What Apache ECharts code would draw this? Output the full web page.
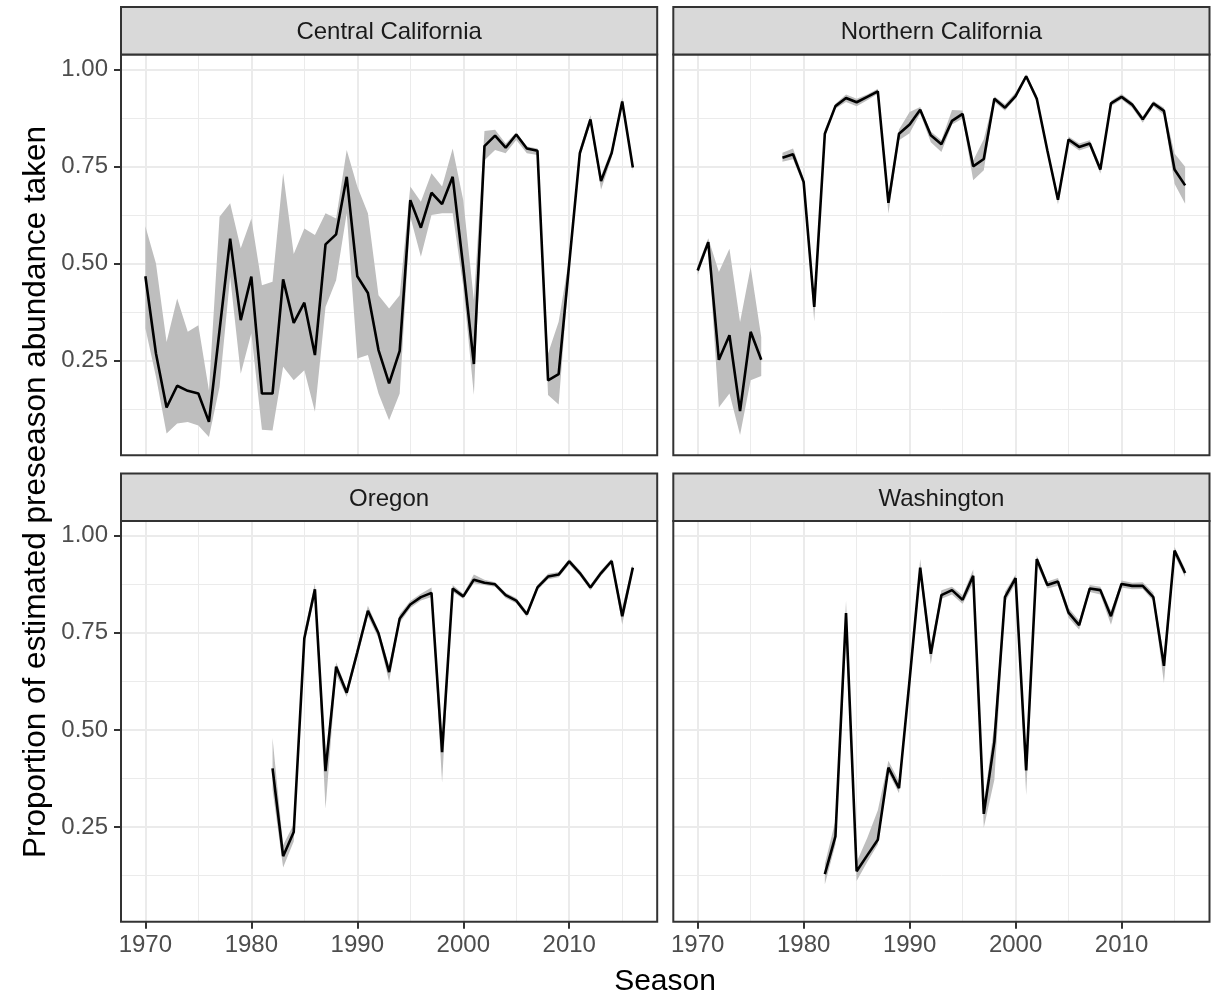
<!DOCTYPE html>
<html>
<head>
<meta charset="utf-8">
<title>Proportion of estimated preseason abundance taken</title>
<script src="https://cdn.jsdelivr.net/npm/echarts@6.0.0/dist/echarts.min.js"></script>
<style>
    html, body { margin: 0; padding: 0; background: #ffffff; }
    #chart { width: 1220px; height: 996px; }
</style>
</head>
<body>
<div id="chart"></div>
<script>
// 年份
var seasons = [1970, 1971, 1972, 1973, 1974, 1975, 1976, 1977, 1978, 1979,
               1980, 1981, 1982, 1983, 1984, 1985, 1986, 1987, 1988, 1989,
               1990, 1991, 1992, 1993, 1994, 1995, 1996, 1997, 1998, 1999,
               2000, 2001, 2002, 2003, 2004, 2005, 2006, 2007, 2008, 2009,
               2010, 2011, 2012, 2013, 2014, 2015, 2016];

var xMajorTicks = [1970, 1980, 1990, 2000, 2010];
var xMinorTicks = [1975, 1985, 1995, 2005, 2015];
var yMajorTicks = [0.25, 0.50, 0.75, 1.00];
var yMinorTicks = [0.125, 0.375, 0.625, 0.875];

var panelNames = ['Central California', 'Northern California', 'Oregon', 'Washington'];

// Central California
var centralMid = [0.467, 0.268, 0.129, 0.185, 0.172, 0.165, 0.092, 0.328, 0.564, 0.354,
                  0.466, 0.165, 0.165, 0.459, 0.347, 0.399, 0.264, 0.549, 0.575, 0.723,
                  0.467, 0.424, 0.277, 0.191, 0.275, 0.663, 0.592, 0.682, 0.653, 0.723,
                  0.490, 0.241, 0.802, 0.829, 0.798, 0.832, 0.796, 0.790, 0.199, 0.215,
                  0.500, 0.784, 0.871, 0.712, 0.784, 0.917, 0.747];
var centralLo  = [0.333, 0.208, 0.062, 0.088, 0.092, 0.083, 0.053, 0.182, 0.466, 0.216,
                  0.320, 0.072, 0.070, 0.234, 0.199, 0.225, 0.118, 0.388, 0.457, 0.629,
                  0.255, 0.264, 0.165, 0.096, 0.165, 0.620, 0.517, 0.625, 0.629, 0.629,
                  0.440, 0.161, 0.766, 0.792, 0.784, 0.818, 0.784, 0.779, 0.161, 0.137,
                  0.485, 0.772, 0.860, 0.690, 0.772, 0.905, 0.738];
var centralHi  = [0.596, 0.500, 0.298, 0.410, 0.324, 0.341, 0.173, 0.620, 0.655, 0.539,
                  0.616, 0.444, 0.453, 0.732, 0.524, 0.590, 0.573, 0.629, 0.616, 0.792,
                  0.698, 0.629, 0.418, 0.384, 0.418, 0.698, 0.659, 0.732, 0.698, 0.796,
                  0.663, 0.405, 0.841, 0.844, 0.809, 0.837, 0.801, 0.796, 0.268, 0.350,
                  0.515, 0.795, 0.882, 0.725, 0.795, 0.928, 0.758];

// Northern California
var northMid = [0.482, 0.555, 0.252, 0.315, 0.120, 0.324, 0.252, null, 0.772, 0.781,
                0.710, 0.388, 0.834, 0.905, 0.926, 0.915, 0.929, 0.943, 0.656, 0.834,
                0.858, 0.896, 0.830, 0.807, 0.867, 0.885, 0.750, 0.769, 0.924, 0.901,
                0.931, 0.982, 0.924, 0.791, 0.664, 0.819, 0.800, 0.809, 0.742, 0.912,
                0.929, 0.909, 0.871, 0.912, 0.893, 0.742, 0.701];
var northLo  = [0.470, 0.545, 0.129, 0.165, 0.058, 0.199, 0.210, null, 0.762, 0.768,
                0.700, 0.350, 0.826, 0.898, 0.916, 0.905, 0.920, 0.937, 0.628, 0.817,
                0.835, 0.886, 0.812, 0.787, 0.858, 0.873, 0.714, 0.740, 0.916, 0.893,
                0.925, 0.976, 0.916, 0.783, 0.652, 0.810, 0.791, 0.800, 0.731, 0.905,
                0.922, 0.901, 0.862, 0.905, 0.882, 0.705, 0.654];
var northHi  = [0.495, 0.565, 0.478, 0.538, 0.349, 0.491, 0.310, null, 0.785, 0.796,
                0.720, 0.405, 0.845, 0.911, 0.935, 0.924, 0.935, 0.950, 0.671, 0.845,
                0.890, 0.903, 0.840, 0.817, 0.895, 0.894, 0.765, 0.820, 0.930, 0.910,
                0.940, 0.987, 0.933, 0.800, 0.675, 0.827, 0.809, 0.817, 0.753, 0.918,
                0.936, 0.916, 0.879, 0.918, 0.901, 0.783, 0.749];

// Oregon
var oregonMid = [null, null, null, null, null, null, null, null, null, null,
                 null, null, 0.401, 0.175, 0.237, 0.736, 0.862, 0.394, 0.663, 0.596,
                 0.700, 0.807, 0.749, 0.649, 0.787, 0.823, 0.842, 0.853, 0.443, 0.864,
                 0.844, 0.887, 0.879, 0.875, 0.847, 0.833, 0.798, 0.867, 0.895, 0.900,
                 0.934, 0.904, 0.867, 0.904, 0.935, 0.793, 0.918];
var oregonLo  = [null, null, null, null, null, null, null, null, null, null,
                 null, null, 0.346, 0.146, 0.213, 0.722, 0.847, 0.297, 0.643, 0.585,
                 0.687, 0.793, 0.736, 0.625, 0.776, 0.814, 0.833, 0.842, 0.364, 0.855,
                 0.838, 0.878, 0.873, 0.869, 0.840, 0.826, 0.791, 0.860, 0.888, 0.893,
                 0.926, 0.897, 0.860, 0.897, 0.928, 0.771, 0.909];
var oregonHi  = [null, null, null, null, null, null, null, null, null, null,
                 null, null, 0.479, 0.204, 0.257, 0.754, 0.878, 0.434, 0.674, 0.607,
                 0.714, 0.820, 0.758, 0.665, 0.798, 0.832, 0.851, 0.867, 0.470, 0.873,
                 0.851, 0.900, 0.887, 0.880, 0.853, 0.840, 0.805, 0.873, 0.902, 0.907,
                 0.940, 0.911, 0.874, 0.911, 0.941, 0.816, 0.926];

// Washington
var washMid = [null, null, null, null, null, null, null, null, null, null,
               null, null, 0.129, 0.226, 0.801, 0.136, 0.177, 0.217, 0.403, 0.350,
               0.629, 0.918, 0.696, 0.847, 0.860, 0.835, 0.897, 0.284, 0.470, 0.842,
               0.891, 0.396, 0.940, 0.873, 0.882, 0.802, 0.770, 0.864, 0.860, 0.793,
               0.876, 0.871, 0.871, 0.842, 0.665, 0.962, 0.904];
var washLo  = [null, null, null, null, null, null, null, null, null, null,
               null, null, 0.102, 0.205, 0.727, 0.111, 0.160, 0.205, 0.390, 0.337,
               0.612, 0.895, 0.669, 0.838, 0.849, 0.824, 0.878, 0.248, 0.372, 0.829,
               0.878, 0.332, 0.926, 0.864, 0.871, 0.789, 0.758, 0.855, 0.849, 0.771,
               0.867, 0.862, 0.863, 0.832, 0.621, 0.949, 0.894];
var washHi  = [null, null, null, null, null, null, null, null, null, null,
               null, null, 0.155, 0.266, 0.833, 0.160, 0.222, 0.293, 0.421, 0.368,
               0.647, 0.940, 0.718, 0.860, 0.869, 0.847, 0.913, 0.310, 0.514, 0.856,
               0.900, 0.434, 0.949, 0.882, 0.891, 0.814, 0.782, 0.873, 0.869, 0.807,
               0.885, 0.879, 0.880, 0.853, 0.691, 0.971, 0.915];

var panelMid = [centralMid, northMid, oregonMid, washMid];
var panelLo = [centralLo, northLo, oregonLo, washLo];
var panelHi = [centralHi, northHi, oregonHi, washHi];

// 布局 (像素)
var FONT = '"Liberation Sans", Arial, sans-serif';
var PANEL_W = 536.2, PANEL_H = 400.8, STRIP_H = 47.5;
var panelLeft = [121, 673.3, 121, 673.3];
var panelTop = [54.5, 54.5, 521, 521];
var X_MIN = 1967.7, X_MAX = 2018.3;
var Y_MIN = 0.006, Y_MAX = 1.038;

function pairs(vals) {
    return seasons.map(function (yr, i) {
        return [yr, vals[i] == null ? null : vals[i]];
    });
}

// 连续的非空区段 [起, 止]
function segments(lo, hi) {
    var segs = [], start = -1;
    for (var k = 0; k <= seasons.length; k++) {
        var ok = k < seasons.length && lo[k] != null && hi[k] != null;
        if (ok && start < 0) { start = k; }
        if (!ok && start >= 0) { segs.push([start, k - 1]); start = -1; }
    }
    return segs;
}

// 置信带多边形
function bandRenderer(lo, hi) {
    return function (params, api) {
        var s = api.value(0), e = api.value(1);
        var pts = [];
        for (var k = s; k <= e; k++) { pts.push(api.coord([seasons[k], hi[k]])); }
        for (var k2 = e; k2 >= s; k2--) { pts.push(api.coord([seasons[k2], lo[k2]])); }
        return {
            type: 'polygon',
            shape: { points: pts },
            style: { fill: '#bebebe', stroke: null }
        };
    };
}

var grids = [], xAxes = [], yAxes = [], series = [], graphics = [];

for (var i = 0; i < 4; i++) {
    var bottomRow = i >= 2;
    var leftCol = (i % 2) === 0;

    grids.push({
        left: panelLeft[i], top: panelTop[i], width: PANEL_W, height: PANEL_H,
        show: false, containLabel: false, outerBoundsMode: 'none'
    });

    // 主刻度 + 网格线
    xAxes.push({
        type: 'value', gridIndex: i, min: X_MIN, max: X_MAX, position: 'bottom',
        axisLine: { show: false, onZero: false },
        axisTick: { show: bottomRow, customValues: xMajorTicks, length: 7, lineStyle: { color: '#333333', width: 2 } },
        axisLabel: {
            show: bottomRow, customValues: xMajorTicks, margin: 12, fontSize: 24, color: '#4d4d4d', fontFamily: FONT,
            formatter: function (v) { return String(v); }
        },
        splitLine: { show: true, lineStyle: { color: '#ebebeb', width: 2 } }
    });
    // 次网格线
    xAxes.push({
        type: 'value', gridIndex: i, min: X_MIN, max: X_MAX, position: 'bottom',
        axisLine: { show: false, onZero: false },
        axisTick: { show: false, customValues: xMinorTicks },
        axisLabel: { show: false, customValues: xMinorTicks },
        splitLine: { show: true, lineStyle: { color: '#ebebeb', width: 1 } }
    });

    yAxes.push({
        type: 'value', gridIndex: i, min: Y_MIN, max: Y_MAX, position: 'left',
        axisLine: { show: false, onZero: false },
        axisTick: { show: leftCol, customValues: yMajorTicks, length: 7, lineStyle: { color: '#333333', width: 2 } },
        axisLabel: {
            show: leftCol, customValues: yMajorTicks, margin: 13, fontSize: 24, color: '#4d4d4d', fontFamily: FONT,
            formatter: function (v) { return v.toFixed(2); }
        },
        splitLine: { show: true, lineStyle: { color: '#ebebeb', width: 2 } }
    });
    yAxes.push({
        type: 'value', gridIndex: i, min: Y_MIN, max: Y_MAX, position: 'left',
        axisLine: { show: false, onZero: false },
        axisTick: { show: false, customValues: yMinorTicks },
        axisLabel: { show: false, customValues: yMinorTicks },
        splitLine: { show: true, lineStyle: { color: '#ebebeb', width: 1 } }
    });

    // 置信区间
    series.push({
        type: 'custom', xAxisIndex: 2 * i, yAxisIndex: 2 * i,
        data: segments(panelLo[i], panelHi[i]),
        encode: { x: -1, y: -1 },
        renderItem: bandRenderer(panelLo[i], panelHi[i]),
        silent: true, clip: true, z: 2
    });
    // 估计值
    series.push({
        type: 'line', xAxisIndex: 2 * i, yAxisIndex: 2 * i,
        data: pairs(panelMid[i]), symbol: 'none', silent: true,
        lineStyle: { color: '#000000', width: 2.6 }, connectNulls: false, z: 5
    });

    // 面板边框
    graphics.push({
        type: 'rect', z: 100,
        shape: { x: panelLeft[i], y: panelTop[i], width: PANEL_W, height: PANEL_H },
        style: { fill: null, stroke: '#333333', lineWidth: 2 }
    });
    // 分面标题
    graphics.push({
        type: 'rect', z: 100,
        shape: { x: panelLeft[i], y: panelTop[i] - STRIP_H, width: PANEL_W, height: STRIP_H },
        style: { fill: '#d9d9d9', stroke: '#333333', lineWidth: 2 }
    });
    graphics.push({
        type: 'text', z: 101,
        x: panelLeft[i] + PANEL_W / 2, y: panelTop[i] - STRIP_H / 2 + 2,
        style: { text: panelNames[i], fontSize: 24, fontFamily: FONT, fill: '#1a1a1a', align: 'center', verticalAlign: 'middle' }
    });
}

// 坐标轴标题
graphics.push({
    type: 'text', z: 101, x: 665, y: 982,
    style: { text: 'Season', fontSize: 30, fontFamily: FONT, fill: '#000000', align: 'center', verticalAlign: 'middle' }
});
graphics.push({
    type: 'text', z: 101, x: 36, y: 492, rotation: Math.PI / 2,
    style: { text: 'Proportion of estimated preseason abundance taken', fontSize: 31.5, fontFamily: FONT, fill: '#000000', align: 'center', verticalAlign: 'middle' }
});

var chart = echarts.init(document.getElementById('chart'), null, { renderer: 'canvas' });
chart.setOption({
    animation: false,
    backgroundColor: '#ffffff',
    grid: grids,
    xAxis: xAxes,
    yAxis: yAxes,
    series: series,
    graphic: { elements: graphics }
});
</script>
</body>
</html>
